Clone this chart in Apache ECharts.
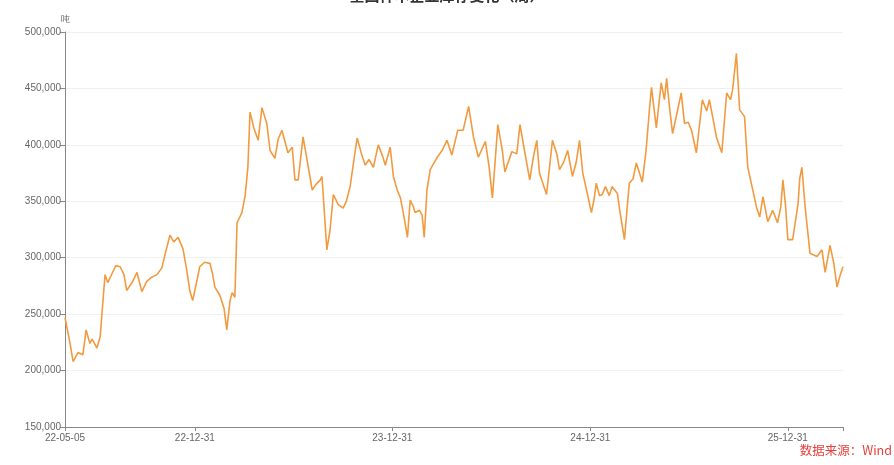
<!DOCTYPE html>
<html><head><meta charset="utf-8">
<script src="https://cdn.jsdelivr.net/npm/echarts@6/dist/echarts.min.js"></script>
<style>html,body{margin:0;padding:0;background:#fff}#c{width:894px;height:465px}</style>
</head><body><div id="c"></div>
<script>
const titleText = '全国样本企业库存变化（周）';
const unitName = '吨';
const sourceText = '数据来源：Wind';
const xLabelDates = ['2022-05-05','2022-12-31','2023-12-31','2024-12-31','2025-12-31'];
const yMin = 150000, yMax = 500000, yStep = 50000;
const dates = [
'2022-05-05','2022-05-14','2022-05-20','2022-05-29','2022-06-07','2022-06-13','2022-06-20','2022-06-24','2022-07-03','2022-07-09',
'2022-07-18','2022-07-23','2022-07-31','2022-08-07','2022-08-15','2022-08-22','2022-08-27','2022-09-06','2022-09-15','2022-09-24',
'2022-10-03','2022-10-13','2022-10-22','2022-10-31','2022-11-07','2022-11-15','2022-11-22','2022-11-30','2022-12-09','2022-12-16',
'2022-12-22','2022-12-27',
'2023-01-04','2023-01-09','2023-01-18','2023-01-28','2023-02-02','2023-02-06','2023-02-15','2023-02-23','2023-02-28','2023-03-06',
'2023-03-10','2023-03-15','2023-03-19','2023-03-28','2023-04-03','2023-04-08','2023-04-12','2023-04-19','2023-04-27','2023-05-04',
'2023-05-13','2023-05-19','2023-05-28','2023-06-03','2023-06-10','2023-06-21','2023-06-29','2023-07-04','2023-07-10','2023-07-19',
'2023-07-27','2023-08-05','2023-08-12','2023-08-20','2023-08-23','2023-09-01','2023-09-07','2023-09-13','2023-09-22','2023-10-01',
'2023-10-07','2023-10-14','2023-10-22','2023-10-27','2023-11-04','2023-11-11','2023-11-18','2023-11-26','2023-12-05','2023-12-13',
'2023-12-18','2023-12-27',
'2024-01-02','2024-01-09','2024-01-15','2024-01-22','2024-01-28','2024-02-02','2024-02-08','2024-02-11','2024-02-19','2024-02-24',
'2024-02-28','2024-03-04','2024-03-10','2024-03-23','2024-04-01','2024-04-10','2024-04-19','2024-04-30','2024-05-10','2024-05-20',
'2024-05-29','2024-06-07','2024-06-20','2024-06-27','2024-07-03','2024-07-08','2024-07-13','2024-07-21','2024-07-26','2024-08-08',
'2024-08-17','2024-08-23','2024-09-01','2024-09-10','2024-09-17','2024-09-23','2024-09-28','2024-10-11','2024-10-22','2024-10-30',
'2024-11-04','2024-11-12','2024-11-19','2024-11-28','2024-12-05','2024-12-11','2024-12-17','2024-12-24',
'2025-01-02','2025-01-07','2025-01-11','2025-01-17','2025-01-22','2025-01-28','2025-02-04','2025-02-09','2025-02-19','2025-02-24',
'2025-03-04','2025-03-13','2025-03-20','2025-03-26','2025-04-06','2025-04-13','2025-04-19','2025-04-23','2025-05-02','2025-05-11',
'2025-05-17','2025-05-21','2025-05-26','2025-06-01','2025-06-10','2025-06-17','2025-06-23','2025-06-30','2025-07-06','2025-07-15',
'2025-07-26','2025-08-03','2025-08-08','2025-08-16','2025-08-21','2025-08-31','2025-09-09','2025-09-16','2025-09-20','2025-09-27',
'2025-10-03','2025-10-12','2025-10-18','2025-10-25','2025-11-03','2025-11-09','2025-11-15','2025-11-24','2025-12-03','2025-12-12',
'2025-12-18','2025-12-22','2025-12-27','2025-12-31',
'2026-01-09','2026-01-19','2026-01-22','2026-01-26','2026-02-01','2026-02-10','2026-02-23','2026-03-04','2026-03-10','2026-03-15',
'2026-03-19','2026-03-26','2026-04-01','2026-04-07','2026-04-12'
];
const values = [
247000,225000,208000,216000,214000,236000,224000,228000,220000,230000,
285000,278000,286000,293000,292000,285000,271000,278000,287000,270000,
279000,283000,285000,291000,305000,320000,314000,318000,308000,289000,
270000,262000,
280000,292000,296000,295000,285000,274000,267000,255000,236000,262000,
269000,265000,331000,340000,355000,380000,429000,415000,404000,433000,
419000,395000,388000,405000,413000,393000,398000,369000,369000,407000,
385000,360000,365000,369000,372000,307000,325000,356000,347000,344000,
350000,363000,390000,406000,392000,382000,387000,380000,400000,390000,
382000,398000,
372000,360000,353000,335000,318000,351000,345000,340000,342000,338000,
318000,360000,378000,389000,395000,404000,391000,413000,413000,434000,
407000,389000,403000,380000,353000,385000,418000,396000,376000,394000,
392000,418000,393000,369000,390000,404000,375000,356000,404000,392000,
378000,385000,395000,372000,385000,404000,375000,360000,
340000,352000,366000,355000,356000,363000,355000,363000,357000,340000,
316000,366000,370000,384000,367000,395000,430000,451000,415000,455000,
440000,459000,435000,410000,430000,446000,419000,420000,413000,393000,
440000,430000,440000,420000,407000,393000,446000,440000,449000,481000,
431000,425000,380000,365000,345000,336000,354000,332000,342000,331000,
345000,369000,345000,316000,
316000,348000,370000,380000,345000,304000,301000,307000,287000,300000,
311000,295000,274000,285000,292000
];

function ts(s){ const p=s.split('-'); return Date.UTC(+p[0], +p[1]-1, +p[2]); }
function fmtDate(v){ const d=new Date(v); const yy=String(d.getUTCFullYear()).slice(2);
  const mm=String(d.getUTCMonth()+1).padStart(2,'0'); const dd=String(d.getUTCDate()).padStart(2,'0'); return yy+'-'+mm+'-'+dd; }
const seriesData = dates.map((d,i)=>[ts(d), values[i]]);
const tickVals = xLabelDates.map(ts);

const chart = echarts.init(document.getElementById('c'), null, {renderer:'canvas'});
chart.setOption({
  animation:false,
  title:{text:titleText, left:'center', top:-17, textStyle:{fontSize:15, fontWeight:'bold', color:'#333', fontFamily:'Noto Sans CJK SC'}},
  graphic:[{type:'text', right:2, top:444, style:{text:sourceText, fill:'#e8403a', fontSize:12.5, fontFamily:'Noto Sans CJK SC'}}],
  grid:{left:65, right:51, top:32, bottom:38},
  xAxis:{
    type:'value', min:ts(dates[0]), max:ts(dates[dates.length-1]), scale:true,
    axisLine:{lineStyle:{color:'#888', width:1}},
    axisTick:{show:true, customValues:tickVals.concat([ts(dates[dates.length-1])]), length:4, lineStyle:{color:'#888'}},
    axisLabel:{customValues:tickVals, formatter:fmtDate, color:'#666', fontSize:10, margin:6},
    splitLine:{show:false}
  },
  yAxis:{
    type:'value', min:yMin, max:yMax, interval:yStep,
    name:unitName, nameGap:8, nameTextStyle:{color:'#666', fontSize:9, align:'center'},
    axisLine:{show:true, lineStyle:{color:'#888'}},
    axisTick:{show:true, length:5, lineStyle:{color:'#888'}},
    axisLabel:{color:'#666', fontSize:10, margin:4, formatter:v=>v.toLocaleString('en-US')},
    splitLine:{show:true, lineStyle:{color:'#f0f0f0'}}
  },
  series:[{type:'line', data:seriesData, showSymbol:false, lineStyle:{color:'#f29a40', width:1.6}, itemStyle:{color:'#f29a40'}}]
});
</script></body></html>
